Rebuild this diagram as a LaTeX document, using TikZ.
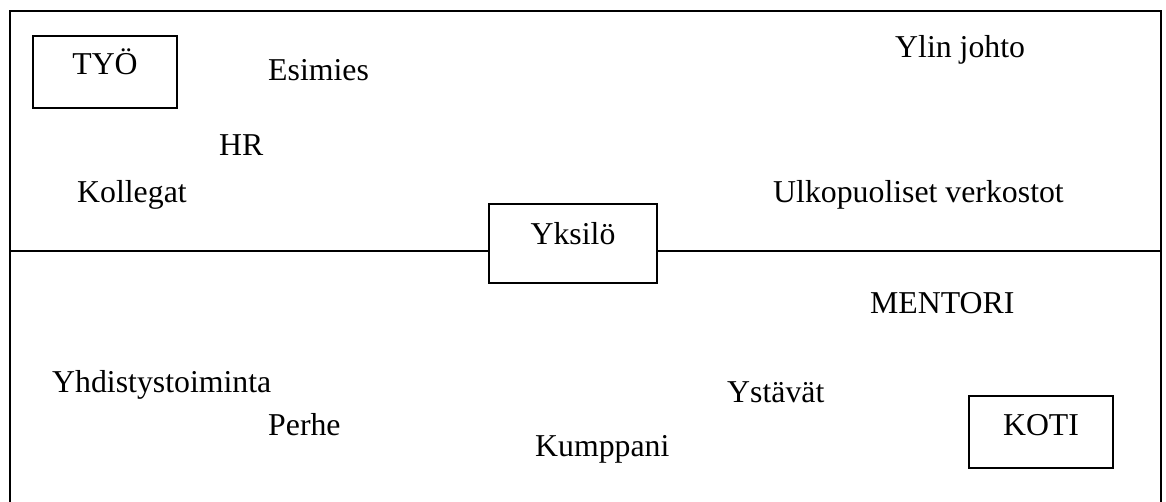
\documentclass[tikz,border=0pt]{standalone}
\usepackage{fontspec}
\setmainfont{Liberation Serif}
\begin{document}
\begin{tikzpicture}[x=1pt,y=-1pt,
  every node/.style={font=\fontsize{31.8}{38}\selectfont, inner sep=0pt},
  lbl/.style={anchor=base west},
  frameline/.style={line width=2pt, line cap=rect},
  boxnode/.style={draw, line width=2pt, minimum width=#1, anchor=north},
]
  \useasboundingbox (0,0) rectangle (1166,501);

  % outer frame (open at the bottom)
  \coordinate (fbl) at (9.5,501);
  \coordinate (ftl) at (9.5,11.3);
  \coordinate (ftr) at (1161,11.3);
  \coordinate (fbr) at (1161,501);
  \draw[frameline] (fbl) -- (ftl) -- (ftr) -- (fbr);

  % boxed nodes
  \node[boxnode=144, text height=38pt, text depth=34pt] (tyo) at (105,35) {TYÖ};
  \node[boxnode=168, text height=40pt, text depth=39pt] (yksilo) at (573,203) {Yksilö};
  \node[boxnode=144, text height=39pt, text depth=33pt] (koti) at (1041,395) {KOTI};

  % dividing line between work and home
  \coordinate (dl) at (9.5,251);
  \coordinate (dr) at (1161,251);
  \draw[frameline] (dl) -- (dl -| yksilo.west);
  \draw[frameline] (yksilo.east |- dr) -- (dr);

  % work side
  \node[lbl] (ylin) at (895,57) {Ylin johto};
  \node[lbl] (esimies) at (268,80) {Esimies};
  \node[lbl] (hr) at (219,155) {HR};
  \node[lbl] (kollegat) at (77,202) {Kollegat};
  \node[lbl] (ulko) at (773,202) {Ulkopuoliset verkostot};

  % home side
  \node[lbl] (mentori) at (870,313) {MENTORI};
  \node[lbl] (yhdistys) at (52,392) {Yhdistystoiminta};
  \node[lbl] (ystavat) at (727,402) {Ystävät};
  \node[lbl] (perhe) at (268,435) {Perhe};
  \node[lbl] (kumppani) at (535,456) {Kumppani};
\end{tikzpicture}
\end{document}
